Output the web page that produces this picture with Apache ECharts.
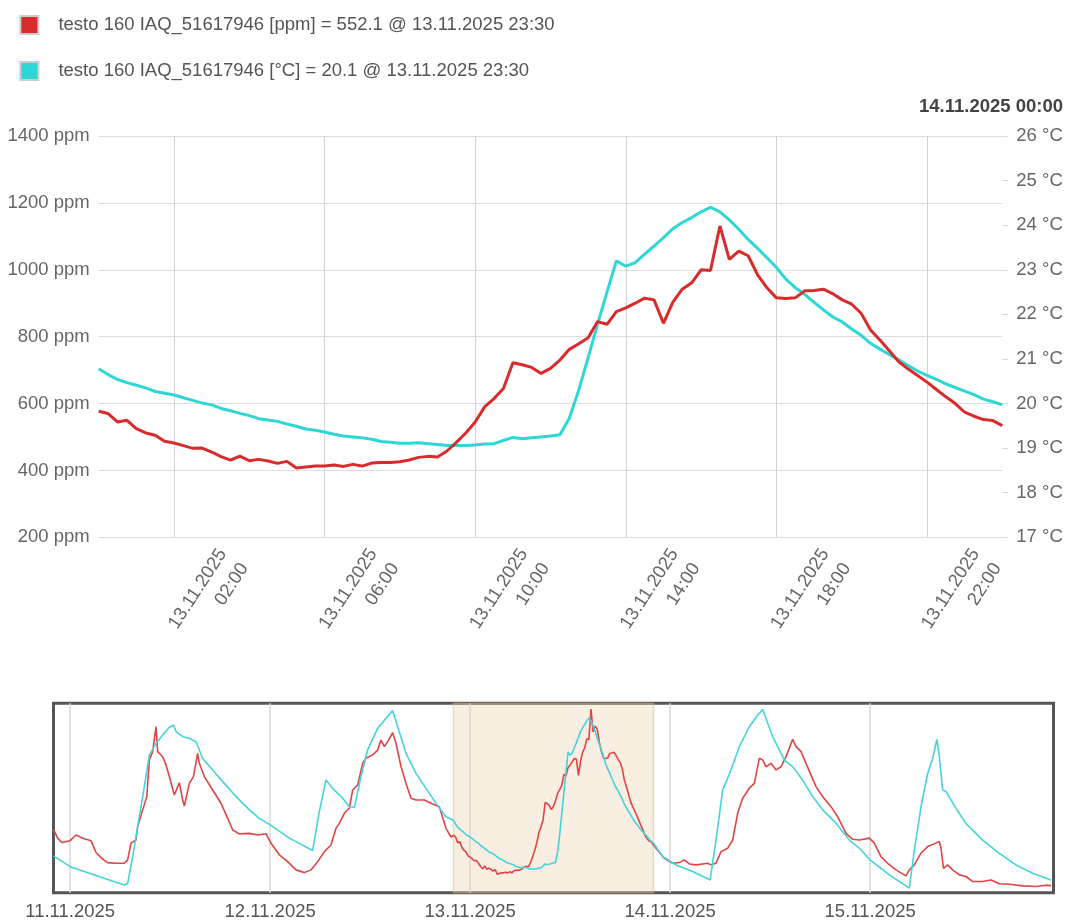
<!DOCTYPE html>
<html>
<head>
<meta charset="utf-8">
<script src="https://cdn.jsdelivr.net/npm/echarts@6/dist/echarts.min.js"></script>
<style>
html,body{margin:0;padding:0;background:#fff;}
#chart{width:1068px;height:922px;}
</style>
</head>
<body>
<div id="chart"></div>
<script>
// ---------- DATA ----------
const seriesNames = ['testo 160 IAQ_51617946 [ppm]', 'testo 160 IAQ_51617946 [°C]'];

// main chart: 13.11.2025 00:00 .. 14.11.2025 00:00, every 15 minutes
const mainStartParts = [2025, 10, 13, 0, 0];
const mainStepMinutes = 15;
const co2Main = [
  577,570,545,550, 525,512,505,487, 482,474,466,467, 455,441,431,443,
  429,433,428,421, 427,407,410,413, 413,416,412,418, 413,422,424,424,
  426,431,439,442, 440,458,484,512, 545,590,615,645, 722,716,708,690,
  705,730,762,779, 797,845,837,875, 886,900,915,910, 840,903,942,961,
  1000,998,1131,1031, 1056,1042,985,946, 916,914,916,937, 938,942,928,910,
  897,870,820,790, 758,725,703,684, 664,642,620,600, 574,562,552.1,549, 534
];
const tempMain = [
  20.78,20.65,20.54,20.47, 20.41,20.35,20.27,20.23, 20.19,20.13,20.07,20.01, 19.97,19.89,19.84,19.78,
  19.73,19.66,19.63,19.60, 19.54,19.49,19.43,19.40, 19.36,19.31,19.27,19.25, 19.23,19.20,19.15,19.13,
  19.11,19.11,19.12,19.10, 19.08,19.06,19.06,19.06, 19.07,19.09,19.10,19.17, 19.24,19.21,19.23,19.25,
  19.27,19.30,19.67,20.30, 21.03,21.78,22.50,23.20, 23.08,23.16,23.35,23.53, 23.72,23.92,24.06,24.17,
  24.30,24.40,24.30,24.12, 23.91,23.68,23.48,23.27, 23.05,22.79,22.60,22.45, 22.27,22.10,21.94,21.83,
  21.67,21.53,21.35,21.22, 21.10,20.98,20.85,20.73, 20.63,20.54,20.44,20.36, 20.28,20.20,20.10,20.04, 19.97
];
const mainTickHours = [2, 6, 10, 14, 18, 22];
const legendIndex = 94; // 23:30
const headerText = '14.11.2025 00:00';

// overview: axis from 10.11.2025 22:00, 120 h; it runs 2 h behind the main axis
const ovStartParts = [2025, 10, 10, 22, 0];
const ovSpanHours = 120;
const ovShiftHours = 2;
const ovDays = [11, 12, 13, 14, 15];
// before the displayed day
const ovRedHoursA = [0,0.5,1.0,2.0,2.7,3.5,4.5,5.1,5.9,6.5,7.5,8.5,8.9,9.3,9.9,10.1,10.7,11.2,11.5,11.9,12.1,12.3,12.5,13.1,13.5,13.9,14.5,15.1,15.5,15.7,16.3,16.8,17.3,17.5,18.1,19.1,20.1,20.9,21.5,22.3,23.5,24.5,25.5,26.1,27.1,28.1,29.1,30.1,30.9,31.7,32.5,33.3,33.9,34.3,34.9,35.5,35.9,36.5,37.1,37.5,38.3,38.9,39.3,39.7,40.1,40.7,41.1,41.7,42.3,42.9,43.5,44.5,45.3,46.3,47.1,47.7];
const ovRedValsA = [604,565,546,554,579,565,554,502,473,458,455,455,470,543,557,616,689,747,908,944,937,1054,944,922,886,835,754,808,732,706,805,835,937,893,835,776,718,652,601,584,586,579,584,543,492,462,426,414,426,462,506,535,608,630,674,696,776,798,893,915,930,951,995,966,988,1027,981,879,805,740,732,732,718,703,608,570];
const ovTempHoursA = [0,2.0,4.3,6.7,8.5,8.9,9.5,10.1,10.9,11.5,12.3,13.1,13.9,14.4,14.7,15.5,16.3,17.1,17.9,19.1,20.3,21.9,23.5,24.7,26.0,28.3,31.1,31.9,32.7,33.5,34.7,35.5,36.1,36.9,37.7,38.9,39.9,40.7,41.3,42.3,43.5,44.7,45.9,47.1];
const ovTempValsA = [19.52,19.14,18.91,18.67,18.49,18.55,19.50,20.56,21.97,23.09,23.50,23.80,24.07,24.15,23.92,23.74,23.68,23.56,22.97,22.56,22.15,21.62,21.15,20.85,20.62,20.15,19.71,21.09,22.21,21.91,21.56,21.26,21.24,22.33,23.27,24.03,24.39,24.66,24.09,23.15,22.44,21.91,21.38,20.91];
// after the displayed day
const ovRedHoursB = [73.3,74.3,75.1,75.7,76.3,77.1,77.9,78.5,78.9,79.5,80.1,80.9,81.5,82.1,82.7,83.5,84.1,84.7,85.1,85.5,86.1,86.7,87.3,87.9,88.7,89.1,89.7,90.3,91.5,92.3,93.3,94.1,95.1,95.9,96.7,97.9,98.5,99.3,100.1,101.1,102.3,102.7,103.3,104.1,104.9,105.7,106.3,106.5,106.8,107.3,107.9,108.7,109.5,110.3,111.5,112.5,113.5,114.7,116.3,117.9,119.1,119.7];
const ovRedValsB = [477,455,458,470,452,448,452,455,448,455,506,521,557,674,740,784,805,915,908,878,893,864,878,922,998,966,944,893,791,747,703,659,586,560,557,565,543,484,455,426,400,426,448,499,528,540,550,521,433,448,426,404,397,375,375,382,365,363,356,353,359,357];
const ovTempHoursB = [73.1,74.7,76.7,78.8,79.5,80.3,81.3,82.3,83.5,84.5,85.1,86.3,87.7,88.7,89.9,91.1,92.3,93.9,95.5,96.7,97.9,100.3,102.7,103.3,104.1,104.9,105.5,106.0,106.3,106.7,107.1,108.3,109.5,111.5,113.5,115.5,117.5,119.7];
const ovTempValsB = [19.50,19.20,18.97,18.67,20.08,21.85,22.56,23.39,24.09,24.50,24.70,23.74,22.91,22.68,22.20,21.62,21.15,20.68,20.08,19.80,19.40,18.85,18.38,19.73,21.26,22.44,22.97,23.64,23.03,21.85,21.80,21.20,20.67,20.08,19.61,19.20,18.91,18.67];
const ovPpmRange = [326, 1156];
const ovTempRange = [18.22, 24.92];

// ---------- BUILD ----------
const H = 3600 * 1000;
const mainStart = new Date(...mainStartParts).getTime();
const mainEnd = mainStart + 24 * H;
const stepMs = mainStepMinutes * 60 * 1000;
const ovStart = new Date(...ovStartParts).getTime();
const ovEnd = ovStart + ovSpanHours * H;

const pad = n => (n < 10 ? '0' : '') + n;
const fmtDate = d => pad(d.getDate()) + '.' + pad(d.getMonth() + 1) + '.' + d.getFullYear();
const fmtTime = d => pad(d.getHours()) + ':' + pad(d.getMinutes());

const redMainData = co2Main.map((v, i) => [mainStart + i * stepMs, v]);
const cyanMainData = tempMain.map((v, i) => [mainStart + i * stepMs, v]);

const toOv = t => t - ovShiftHours * H;
const ovRedData = ovRedHoursA.map((h, i) => [ovStart + h * H, ovRedValsA[i]])
  .concat(redMainData.map(p => [toOv(p[0]), p[1]]))
  .concat(ovRedHoursB.map((h, i) => [ovStart + h * H, ovRedValsB[i]]));
const ovTempData = ovTempHoursA.map((h, i) => [ovStart + h * H, ovTempValsA[i]])
  .concat(cyanMainData.map(p => [toOv(p[0]), p[1]]))
  .concat(ovTempHoursB.map((h, i) => [ovStart + h * H, ovTempValsB[i]]));

const mainTicks = mainTickHours.map(h => mainStart + h * H);
const ovTicks = ovDays.map(d => new Date(2025, 10, d, 0, 0).getTime());

const legendTime = new Date(mainStart + legendIndex * stepMs);
const legendValues = {};
legendValues[seriesNames[0]] = co2Main[legendIndex].toFixed(1);
legendValues[seriesNames[1]] = tempMain[legendIndex].toFixed(1);

const RED = '#d92b2b', CYAN = '#2fd6d6';
const FONT = '"Liberation Sans", Arial, sans-serif';
const FS = 18.5;

const chart = echarts.init(document.getElementById('chart'));
chart.setOption({
  animation: false,
  textStyle: { fontFamily: FONT },
  title: {
    text: headerText, right: 5, top: 97, padding: 0,
    textStyle: { fontSize: FS, fontWeight: 'bold', color: '#444', lineHeight: 19, fontFamily: FONT }
  },
  legend: {
    data: seriesNames, orient: 'vertical', left: 19.4, top: 15, padding: 0,
    icon: 'rect', itemWidth: 18, itemHeight: 18, itemGap: 26,
    itemStyle: { borderColor: '#cccccc', borderWidth: 2 },
    selectedMode: false,
    textStyle: { fontSize: FS, color: '#555', lineHeight: 20, padding: [0, 0, 0, 15], fontFamily: FONT },
    formatter: name => name + ' = ' + legendValues[name] + ' @ ' + fmtDate(legendTime) + ' ' + fmtTime(legendTime)
  },
  grid: [
    { left: 98.7, right: 65.7, top: 136, height: 401.3 },
    { left: 53.5, width: 1000, top: 703.3, height: 189.4, show: true, borderColor: '#555', borderWidth: 3, backgroundColor: 'transparent' },
    { left: 158.2, width: 903.6, top: 136, height: 401.3 }
  ],
  xAxis: [
    {
      gridIndex: 0, type: 'value', min: mainStart, max: mainEnd,
      axisLine: { show: false }, axisTick: { show: false, customValues: mainTicks },
      axisLabel: { show: false, customValues: mainTicks },
      splitLine: { show: true, lineStyle: { color: '#d3d3d3', width: 1 } }
    },
    {
      gridIndex: 1, type: 'value', min: ovStart, max: ovEnd,
      axisLine: { show: false }, axisTick: { show: false, customValues: ovTicks },
      axisLabel: {
        customValues: ovTicks, fontSize: FS, color: '#555', margin: 10, fontFamily: FONT,
        formatter: v => fmtDate(new Date(v))
      },
      splitLine: { show: true, lineStyle: { color: '#dadada', width: 1.5 } }
    },
    {
      gridIndex: 2, type: 'value', min: mainStart, max: mainEnd,
      axisLine: { show: false }, axisTick: { show: false, customValues: mainTicks },
      splitLine: { show: false },
      axisLabel: {
        customValues: mainTicks, rotate: 57, margin: 20.5, fontSize: FS, lineHeight: 26,
        color: '#666', fontFamily: FONT,
        formatter: v => { const d = new Date(v); return fmtDate(d) + '\n' + fmtTime(d); }
      }
    }
  ],
  yAxis: [
    {
      gridIndex: 0, type: 'value', min: 200, max: 1400, interval: 200,
      axisLine: { show: false }, axisTick: { show: false },
      axisLabel: { formatter: v => v + ' ppm', fontSize: FS, color: '#666', margin: 9, fontFamily: FONT },
      splitLine: { show: true, lineStyle: { color: '#dddddd', width: 1 } }
    },
    {
      gridIndex: 0, type: 'value', position: 'right', min: 17, max: 26, interval: 1,
      axisLine: { show: false },
      axisTick: { show: true, length: 6, lineStyle: { color: '#d8d8d8' } },
      axisLabel: { formatter: v => v + ' °C', fontSize: FS, color: '#666', margin: 14, fontFamily: FONT },
      splitLine: { show: false }
    },
    { gridIndex: 1, type: 'value', min: ovPpmRange[0], max: ovPpmRange[1], show: false, splitLine: { show: false } },
    { gridIndex: 1, type: 'value', min: ovTempRange[0], max: ovTempRange[1], show: false, splitLine: { show: false } },
    { gridIndex: 2, type: 'value', min: 0, max: 1, show: false, splitLine: { show: false } }
  ],
  series: [
    {
      name: seriesNames[1], type: 'line', xAxisIndex: 0, yAxisIndex: 1, data: cyanMainData,
      showSymbol: false, symbol: 'none', color: CYAN, lineStyle: { width: 3, color: CYAN }, z: 2
    },
    {
      name: seriesNames[0], type: 'line', xAxisIndex: 0, yAxisIndex: 0, data: redMainData,
      showSymbol: false, symbol: 'none', color: RED, lineStyle: { width: 3, color: RED }, z: 3
    },
    {
      name: 'overview-ppm', type: 'line', xAxisIndex: 1, yAxisIndex: 2, data: ovRedData,
      showSymbol: false, symbol: 'none', lineStyle: { width: 1.6, color: '#e04444' }, z: 2
    },
    {
      name: 'overview-temp', type: 'line', xAxisIndex: 1, yAxisIndex: 3, data: ovTempData,
      showSymbol: false, symbol: 'none', lineStyle: { width: 1.6, color: '#44d4da' }, z: 3
    },
    {
      name: 'selection', type: 'line', xAxisIndex: 1, yAxisIndex: 2, data: [], z: 10,
      markArea: {
        silent: true,
        itemStyle: { color: 'rgba(232,200,158,0.3)', borderColor: 'rgba(215,175,130,0.45)', borderWidth: 1.5 },
        data: [[{ xAxis: toOv(mainStart) }, { xAxis: toOv(mainEnd) }]]
      }
    }
  ]
});
</script>
</body>
</html>
